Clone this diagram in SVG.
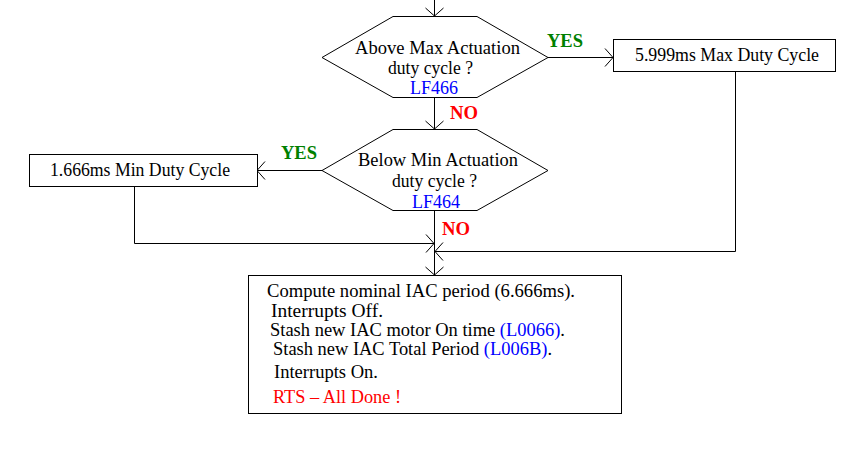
<svg xmlns="http://www.w3.org/2000/svg" width="856" height="458" viewBox="0 0 856 458">
<style>
text{font-family:"Liberation Serif","Times New Roman",serif;font-size:18px;fill:#000}
.b{fill:#0000ff}
.r{fill:#ff0000}
.lbl{font-weight:bold;font-size:19px}
.g{fill:#008000}
.shape{fill:#fff;stroke:#000;stroke-width:1}
.conn{fill:none;stroke:#000;stroke-width:1}
</style>
<defs>
<marker id="arr" markerUnits="userSpaceOnUse" markerWidth="20" markerHeight="20" refX="10" refY="10" orient="auto" overflow="visible">
<path d="M2,1 L10,10 L2,19" fill="none" stroke="#000" stroke-width="1"/>
</marker>
</defs>
<rect width="856" height="458" fill="#fff"/>
<g id="connectors">
<path class="conn" d="M434.5,0 V16" marker-end="url(#arr)"/>
<path class="conn" d="M548,57.5 H613" marker-end="url(#arr)"/>
<path class="conn" d="M434.5,97 V129" marker-end="url(#arr)"/>
<path class="conn" d="M322,170.5 H257" marker-end="url(#arr)"/>
<path class="conn" d="M434.5,211 V275" marker-end="url(#arr)"/>
<path class="conn" d="M134.5,186 V243.5 H434" marker-end="url(#arr)"/>
<path class="conn" d="M735.5,72 V251.5 H435" marker-end="url(#arr)"/>
</g>
<g id="dec1">
<polygon class="shape" points="322,57.5 393,16.5 477,16.5 548,57.5 477,97.5 393,97.5"/>
<text x="355" y="54" textLength="165" lengthAdjust="spacingAndGlyphs">Above Max Actuation</text>
<text x="388" y="74" textLength="85" lengthAdjust="spacingAndGlyphs">duty cycle ?</text>
<text class="b" x="410" y="94" textLength="48" lengthAdjust="spacingAndGlyphs">LF466</text>
</g>
<g id="yes1"><text class="lbl g" x="547" y="47" textLength="36" lengthAdjust="spacingAndGlyphs">YES</text></g>
<g id="maxbox">
<rect class="shape" x="613.5" y="39.5" width="222" height="32"/>
<text x="635" y="61" textLength="184" lengthAdjust="spacingAndGlyphs">5.999ms Max Duty Cycle</text>
</g>
<g id="no1"><text class="lbl r" x="450" y="119" textLength="28" lengthAdjust="spacingAndGlyphs">NO</text></g>
<g id="dec2">
<polygon class="shape" points="322,170.5 393,129.5 477,129.5 548,170.5 477,210.5 393,210.5"/>
<text x="358" y="166" textLength="160" lengthAdjust="spacingAndGlyphs">Below Min Actuation</text>
<text x="392" y="187" textLength="85" lengthAdjust="spacingAndGlyphs">duty cycle ?</text>
<text class="b" x="412" y="208" textLength="48" lengthAdjust="spacingAndGlyphs">LF464</text>
</g>
<g id="yes2"><text class="lbl g" x="281" y="159" textLength="36" lengthAdjust="spacingAndGlyphs">YES</text></g>
<g id="minbox">
<rect class="shape" x="29.5" y="154.5" width="228" height="32"/>
<text x="50" y="176" textLength="180" lengthAdjust="spacingAndGlyphs">1.666ms Min Duty Cycle</text>
</g>
<g id="no2"><text class="lbl r" x="442" y="235" textLength="28" lengthAdjust="spacingAndGlyphs">NO</text></g>
<g id="final">
<rect class="shape" x="248.5" y="275.5" width="373" height="138"/>
<text x="267" y="297" textLength="308" lengthAdjust="spacingAndGlyphs">Compute nominal IAC period (6.666ms).</text>
<text x="271" y="317" textLength="112" lengthAdjust="spacingAndGlyphs">Interrupts Off.</text>
<text x="270" y="336" textLength="295" lengthAdjust="spacingAndGlyphs">Stash new IAC motor On time <tspan class="b">(L0066)</tspan>.</text>
<text x="273" y="355" textLength="279" lengthAdjust="spacingAndGlyphs">Stash new IAC Total Period <tspan class="b">(L006B)</tspan>.</text>
<text x="274" y="378" textLength="104" lengthAdjust="spacingAndGlyphs">Interrupts On.</text>
<text class="r" x="273" y="403" textLength="128" lengthAdjust="spacingAndGlyphs">RTS – All Done !</text>
</g>
</svg>
